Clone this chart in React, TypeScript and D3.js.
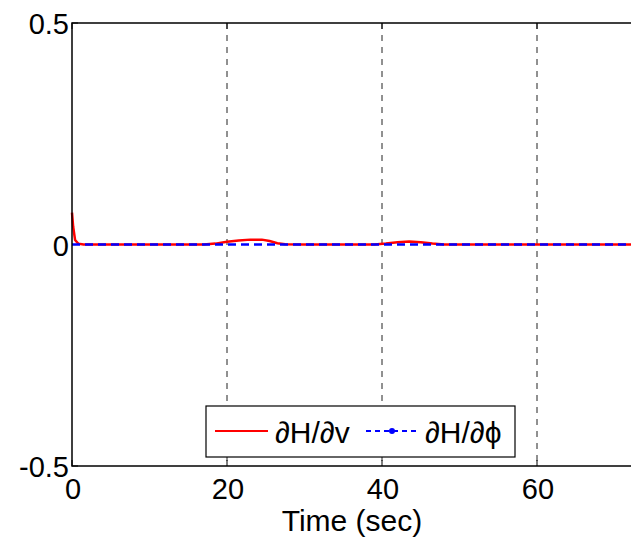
import React from "react";
import * as d3 from "d3";

const xTicks = [0, 20, 40, 60, 80];
const xTickLabels = ["0", "20", "40", "60", ""];
const yTicks = [-0.5, 0, 0.5];
const yTickLabels = ["-0.5", "0", "0.5"];

const redT = [0, 0.15, 0.4, 0.8, 1.5, 5, 10, 15, 17, 18.5, 20, 21.5, 23, 24.5, 25.5, 26.5, 27.5, 30, 35, 39, 40.5, 42, 43.5, 45, 46.5, 48, 55, 65, 75, 80];
const redV = [0.072, 0.04, 0.01, 0.002, 0, 0, 0, 0, 0, 0.002, 0.006, 0.009, 0.011, 0.011, 0.008, 0.003, 0.0005, 0, 0, 0, 0.002, 0.005, 0.007, 0.005, 0.002, 0, 0, 0, 0, 0];

const blueT = [0, 80];
const blueV = [0, 0];

const legendLabels = ["\u2202H/\u2202v", "\u2202H/\u2202\u03d5"];

export default function App() {
  const W = 631, H = 539;
  const left = 72, top = 23, bottom = 466;
  const x = d3.scaleLinear().domain([0, 80]).range([left, left + 80 * 7.75]);
  const y = d3.scaleLinear().domain([-0.5, 0.5]).range([bottom, top]);
  const redPath = d3.line<number>().x((_, i) => x(redT[i])).y((d) => y(d))(redV) || "";
  const bluePath = d3.line<number>().x((_, i) => x(blueT[i])).y((d) => y(d))(blueV) || "";
  const right = x(80);
  const font = "'Liberation Sans', Arial, sans-serif";
  const fs = 29;
  return (
    <svg width={W} height={H} style={{ position: "absolute", left: 0, top: 0, background: "#fff" }}>
      <rect x={0} y={0} width={W} height={H} fill="#fff" />
      {xTicks.filter((t) => t > 0 && t < 80).map((t) => (
        <line key={"g" + t} x1={x(t)} x2={x(t)} y1={top} y2={bottom} stroke="#222" strokeWidth={1} strokeDasharray="6,6" />
      ))}
      {xTicks.map((t) => (
        <g key={"xt" + t}>
          <line x1={x(t)} x2={x(t)} y1={bottom} y2={bottom - 6} stroke="#000" />
          <line x1={x(t)} x2={x(t)} y1={top} y2={top + 6} stroke="#000" />
        </g>
      ))}
      {yTicks.map((t) => (
        <line key={"yt" + t} x1={left} x2={left + 6} y1={y(t)} y2={y(t)} stroke="#000" />
      ))}
      <path d={redPath} fill="none" stroke="#ff0000" strokeWidth={2.5} />
      <path d={bluePath} fill="none" stroke="#0000ff" strokeWidth={2.5} strokeDasharray="8,5" />
      <rect x={left} y={top} width={right - left} height={bottom - top} fill="none" stroke="#000" strokeWidth={1.5} />
      {yTicks.map((t, i) => (
        <text key={"yl" + t} x={left - 3} y={y(t) + 11} textAnchor="end" fontFamily={font} fontSize={fs}>{yTickLabels[i]}</text>
      ))}
      {xTicks.map((t, i) => (
        <text key={"xl" + t} x={x(t) + 1} y={bottom + 33} textAnchor="middle" fontFamily={font} fontSize={fs}>{xTickLabels[i]}</text>
      ))}
      <text x={352} y={531} textAnchor="middle" fontFamily={font} fontSize={30}>Time (sec)</text>
      <g>
        <rect x={206} y={406} width={309} height={51} fill="#fff" stroke="#000" strokeWidth={1.2} />
        <line x1={215} x2={268} y1={431} y2={431} stroke="#ff0000" strokeWidth={2} />
        <text x={275} y={443} fontFamily={font} fontSize={30}>{legendLabels[0]}</text>
        <line x1={366} x2={418} y1={431} y2={431} stroke="#0000ff" strokeWidth={2} strokeDasharray="5,4" />
        <circle cx={392} cy={431} r={3} fill="#0000ff" />
        <text x={425} y={443} fontFamily={font} fontSize={30}>{legendLabels[1]}</text>
      </g>
    </svg>
  );
}
